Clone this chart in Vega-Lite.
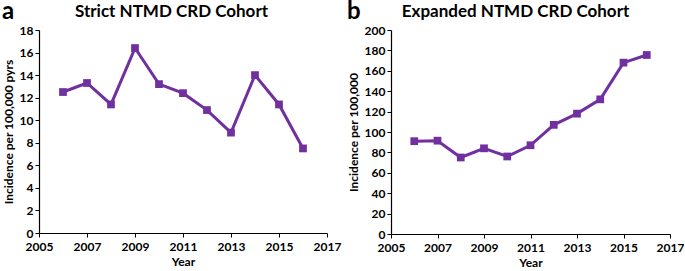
{
  "$schema": "https://vega.github.io/schema/vega-lite/v6.json",
  "padding": {"left": 2, "top": 0, "right": 0, "bottom": 1},
  "spacing": 6,
  "config": {
    "font": "Lato",
    "view": {"stroke": null},
    "axis": {
      "domainColor": "#000000",
      "domainWidth": 1.2,
      "tickColor": "#000000",
      "tickSize": 4,
      "grid": false,
      "labelColor": "#000000",
      "labelFont": "Lato",
      "labelFontSize": 12,
      "labelFontWeight": "bold",
      "labelOverlap": false,
      "labelFlush": false,
      "titleColor": "#000000",
      "titleFont": "Lato",
      "titleFontSize": 12,
      "titleFontWeight": "bold"
    },
    "title": {"font": "Lato", "fontSize": 17, "fontWeight": "bold", "color": "#000000", "anchor": "middle", "frame": "bounds", "offset": 3}
  },
  "datasets": {
    "strict": [
      {"year": 2006, "inc": 12.5}, {"year": 2007, "inc": 13.3}, {"year": 2008, "inc": 11.4},
      {"year": 2009, "inc": 16.4}, {"year": 2010, "inc": 13.2}, {"year": 2011, "inc": 12.4},
      {"year": 2012, "inc": 10.9}, {"year": 2013, "inc": 8.9}, {"year": 2014, "inc": 14.0},
      {"year": 2015, "inc": 11.4}, {"year": 2016, "inc": 7.5}
    ],
    "expanded": [
      {"year": 2006, "inc": 91}, {"year": 2007, "inc": 91.5}, {"year": 2008, "inc": 75},
      {"year": 2009, "inc": 84}, {"year": 2010, "inc": 76}, {"year": 2011, "inc": 87},
      {"year": 2012, "inc": 107}, {"year": 2013, "inc": 118}, {"year": 2014, "inc": 132},
      {"year": 2015, "inc": 168}, {"year": 2016, "inc": 175.5}
    ]
  },
  "hconcat": [
    {
      "title": {"text": "a", "anchor": "start", "frame": "bounds", "fontSize": 24, "offset": -21},
      "vconcat": [
        {
          "width": 288,
          "height": 203,
          "title": "Strict NTMD CRD Cohort",
          "data": {"name": "strict"},
          "mark": {"type": "line", "color": "#7030A0", "strokeWidth": 3, "point": {"shape": "square", "size": 60, "color": "#7030A0", "filled": true, "opacity": 1}},
          "encoding": {
            "x": {"field": "year", "type": "quantitative", "scale": {"domain": [2005, 2017], "nice": false}, "axis": {"values": [2005, 2007, 2009, 2011, 2013, 2015, 2017], "format": "d", "title": "Year", "labelPadding": 4, "titlePadding": 4}},
            "y": {"field": "inc", "type": "quantitative", "scale": {"domain": [0, 18], "nice": false}, "axis": {"values": [0, 2, 4, 6, 8, 10, 12, 14, 16, 18], "title": "Incidence per 100,000 pyrs", "titlePadding": 4}}
          }
        }
      ]
    },
    {
      "title": {"text": "b", "anchor": "start", "frame": "bounds", "fontSize": 24, "offset": -21},
      "vconcat": [
        {
          "width": 279,
          "height": 204,
          "title": "Expanded NTMD CRD Cohort",
          "data": {"name": "expanded"},
          "mark": {"type": "line", "color": "#7030A0", "strokeWidth": 3, "point": {"shape": "square", "size": 60, "color": "#7030A0", "filled": true, "opacity": 1}},
          "encoding": {
            "x": {"field": "year", "type": "quantitative", "scale": {"domain": [2005, 2017], "nice": false}, "axis": {"values": [2005, 2007, 2009, 2011, 2013, 2015, 2017], "format": "d", "title": "Year", "labelPadding": 4, "titlePadding": 4}},
            "y": {"field": "inc", "type": "quantitative", "scale": {"domain": [0, 200], "nice": false}, "axis": {"values": [0, 20, 40, 60, 80, 100, 120, 140, 160, 180, 200], "title": "Incidence per 100,000", "titlePadding": 4}}
          }
        }
      ]
    }
  ]
}
